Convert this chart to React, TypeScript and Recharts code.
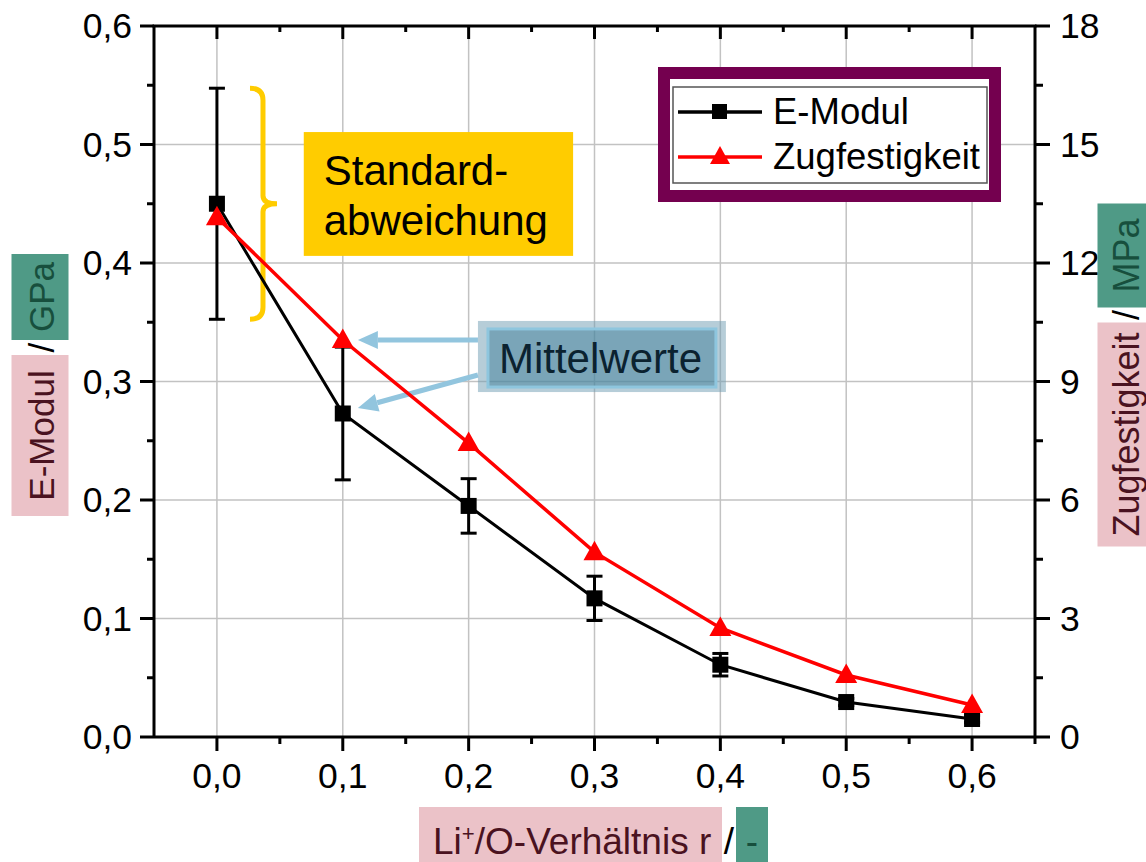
import React from "react";
import {
  ComposedChart,
  Line,
  XAxis,
  YAxis,
  CartesianGrid,
  ErrorBar,
  Legend,
  ReferenceLine,
  ReferenceArea,
} from "recharts";

const FONT = '"Liberation Sans", Arial, Helvetica, sans-serif';

// Li+/O-Verhältnis r
const ratios = [0, 0.1, 0.2, 0.3, 0.4, 0.5, 0.6];
// E-Modul / GPa (Mittelwert + Standardabweichung)
const eModul = [0.45, 0.273, 0.195, 0.117, 0.061, 0.0295, 0.0152];
const eModulStd = [0.0975, 0.056, 0.023, 0.0187, 0.0095, 0.003, 0.003];
// Zugfestigkeit / MPa
const zugfestigkeit = [13.16, 10.05, 7.44, 4.68, 2.76, 1.57, 0.81];

// axis ticks (major + minor)
const X_DOMAIN = [-0.05, 0.65];
const xTicks = [0, 0.05, 0.1, 0.15, 0.2, 0.25, 0.3, 0.35, 0.4, 0.45, 0.5, 0.55, 0.6, 0.65];
const xTopTicks = [0, 0.05, 0.1, 0.15, 0.2, 0.25, 0.3, 0.35, 0.4, 0.45, 0.5, 0.55, 0.6];
const xMajor = [0, 0.1, 0.2, 0.3, 0.4, 0.5, 0.6];
const yLeftTicks = [0, 0.05, 0.1, 0.15, 0.2, 0.25, 0.3, 0.35, 0.4, 0.45, 0.5, 0.55, 0.6];
const yLeftMajor = [0, 0.1, 0.2, 0.3, 0.4, 0.5, 0.6];
const yRightTicks = [0, 1.5, 3, 4.5, 6, 7.5, 9, 10.5, 12, 13.5, 15, 16.5, 18];
const yRightMajor = [0, 3, 6, 9, 12, 15, 18];

// annotation anchors, in data coordinates (x = r, y = GPa)
const braceX = 0.0366;
const stdBox = { x1: 0.069, x2: 0.283, y1: 0.406, y2: 0.5105 };
const meanBox = { x1: 0.2074, x2: 0.4044, y1: 0.2911, y2: 0.3511 };
const arrowZug = [
  { x: 0.2074, y: 0.335 },
  { x: 0.112, y: 0.335 },
];
const arrowE = [
  { x: 0.2074, y: 0.3055 },
  { x: 0.112, y: 0.2776 },
];

const data = ratios.map((r, i) => ({
  r,
  eModul: eModul[i],
  eStd: eModulStd[i],
  zug: zugfestigkeit[i],
}));

const W = 1146;
const H = 862;
const Y_AXIS_W = 60;
const MARGIN = { top: 26, right: 51, bottom: 85, left: 94 };
// plot box edges, derived from the margins above
const PLOT_LEFT = MARGIN.left + Y_AXIS_W;
const PLOT_RIGHT = W - MARGIN.right - Y_AXIS_W;
const PLOT_TOP = MARGIN.top;

const comma = (v: number) => v.toFixed(1).replace(".", ",");
const TICK_FONT = 35.5;

function LeftTick(props: any) {
  const { x, y, payload } = props;
  const major = yLeftMajor.includes(payload.value);
  return (
    <g>
      <line x1={x - (major ? 14 : 7)} y1={y} x2={x} y2={y} stroke="#000" strokeWidth={3} />
      {major && (
        <text x={x - 22} y={y} dy="0.35em" textAnchor="end" fontSize={TICK_FONT} fontFamily={FONT} fill="#000">
          {comma(payload.value)}
        </text>
      )}
    </g>
  );
}

function RightTick(props: any) {
  const { x, y, payload } = props;
  const major = yRightMajor.includes(payload.value);
  return (
    <g>
      <line x1={x} y1={y} x2={x + (major ? 15 : 8)} y2={y} stroke="#000" strokeWidth={3} />
      {major && (
        <text x={x + 25} y={y} dy="0.35em" textAnchor="start" fontSize={TICK_FONT} fontFamily={FONT} fill="#000">
          {String(payload.value)}
        </text>
      )}
    </g>
  );
}

function BottomTick(props: any) {
  const { x, y, payload } = props;
  const major = xMajor.includes(payload.value);
  return (
    <g>
      <line x1={x} y1={y} x2={x} y2={y + (major ? 14 : 7)} stroke="#000" strokeWidth={3} />
      {major && (
        <text x={x} y={y + 51} textAnchor="middle" fontSize={TICK_FONT} fontFamily={FONT} fill="#000">
          {comma(payload.value)}
        </text>
      )}
    </g>
  );
}

// top frame of the plot box with inward ticks, drawn as an overlay
function TopFrame() {
  const span = X_DOMAIN[1] - X_DOMAIN[0];
  const toX = (v: number) => PLOT_LEFT + ((v - X_DOMAIN[0]) / span) * (PLOT_RIGHT - PLOT_LEFT);
  return (
    <svg
      width={W}
      height={H}
      style={{ position: "absolute", left: 0, top: 0, pointerEvents: "none" }}
    >
      <line x1={PLOT_LEFT - 1.5} y1={PLOT_TOP} x2={PLOT_RIGHT + 1.5} y2={PLOT_TOP} stroke="#000" strokeWidth={3} />
      {xTopTicks.map((v) => (
        <line
          key={`tt-${v}`}
          x1={toX(v)}
          y1={PLOT_TOP}
          x2={toX(v)}
          y2={PLOT_TOP + (xMajor.includes(v) ? 13 : 6)}
          stroke="#000"
          strokeWidth={3}
        />
      ))}
    </svg>
  );
}

const squareDot = (props: any) => {
  const { cx, cy, index } = props;
  return <rect key={`sq-${index}`} x={cx - 8} y={cy - 8} width={16} height={16} fill="#000" />;
};

const triangleDot = (props: any) => {
  const { cx, cy, index } = props;
  return (
    <polygon
      key={`tr-${index}`}
      points={`${cx},${cy - 11.5} ${cx - 11},${cy + 8} ${cx + 11},${cy + 8}`}
      fill="#ff0000"
    />
  );
};

const braceShape = (props: any) => {
  const { x1, y1, y2 } = props;
  const top = Math.min(y1, y2);
  const bot = Math.max(y1, y2);
  const mid = (top + bot) / 2;
  const sx = x1;
  const d = [
    `M ${sx - 13} ${top}`,
    `Q ${sx} ${top} ${sx} ${top + 12}`,
    `L ${sx} ${mid - 8}`,
    `Q ${sx} ${mid} ${sx + 14} ${mid}`,
    `Q ${sx} ${mid} ${sx} ${mid + 8}`,
    `L ${sx} ${bot - 12}`,
    `Q ${sx} ${bot} ${sx - 13} ${bot}`,
  ].join(" ");
  return <path d={d} fill="none" stroke="#ffcc00" strokeWidth={5} />;
};

const arrowShape = (props: any) => {
  const { x1, y1, x2, y2 } = props;
  const len = Math.hypot(x2 - x1, y2 - y1) || 1;
  const ux = (x2 - x1) / len;
  const uy = (y2 - y1) / len;
  const bx = x2 - ux * 20;
  const by = y2 - uy * 20;
  const nx = -uy * 9;
  const ny = ux * 9;
  return (
    <g>
      <line x1={x1} y1={y1} x2={bx} y2={by} stroke="#92c5de" strokeWidth={5} />
      <polygon points={`${x2},${y2} ${bx + nx},${by + ny} ${bx - nx},${by - ny}`} fill="#92c5de" />
    </g>
  );
};

const stdBoxShape = (props: any) => {
  const { x, y, width, height } = props;
  return (
    <g>
      <rect x={x} y={y} width={width} height={height} fill="#ffcc00" />
      <text x={x + 20} y={y + 53} fontSize={42} fontFamily={FONT} fill="#000">
        Standard-
      </text>
      <text x={x + 20} y={y + 103} fontSize={42} fontFamily={FONT} fill="#000">
        abweichung
      </text>
    </g>
  );
};

const meanBoxShape = (props: any) => {
  const { x, y, width, height } = props;
  return (
    <g>
      <rect x={x} y={y} width={width} height={height} fill="rgba(110,156,178,0.5)" />
      <rect
        x={x + 10}
        y={y + 8}
        width={width - 20}
        height={height - 13}
        fill="rgba(60,125,150,0.49)"
        stroke="#8ec6de"
        strokeWidth={3}
      />
      <text x={x + 21} y={y + 52} fontSize={42} fontFamily={FONT} fill="#0b2230">
        Mittelwerte
      </text>
    </g>
  );
};

function LegendBox(props: any) {
  const payload = props.payload || [];
  return (
    <div
      style={{
        width: 343,
        height: 135,
        boxSizing: "border-box",
        border: "12px solid #74004f",
        background: "#fff",
      }}
    >
      <svg width={319} height={111} style={{ display: "block" }}>
        <rect x={3} y={8} width={314} height={96} fill="#fff" stroke="#555" strokeWidth={1.5} />
        {payload.map((entry: any, i: number) => {
          const cy = 33 + i * 45;
          const isE = entry.dataKey === "eModul";
          const color = isE ? "#000" : "#ff0000";
          return (
            <g key={entry.value}>
              <line x1={8} y1={cy} x2={92} y2={cy} stroke={color} strokeWidth={3.5} />
              {isE ? (
                <rect x={42} y={cy - 8} width={15} height={15} fill="#000" />
              ) : (
                <polygon points={`50,${cy - 11} 40,${cy + 7} 60,${cy + 7}`} fill="#ff0000" />
              )}
              <text x={103} y={cy + 12} fontSize={36.5} fontFamily={FONT} fill="#000">
                {entry.value}
              </text>
            </g>
          );
        })}
      </svg>
    </div>
  );
}

const pink = { background: "#ebc2c8", color: "#4a1220" };
const green = { background: "#4f9a86", color: "#174f3d" };

export default function App() {
  return (
    <div
      style={{
        position: "absolute",
        left: 0,
        top: 0,
        width: W,
        height: H,
        overflow: "hidden",
        background: "#fff",
        fontFamily: FONT,
      }}
    >
      <ComposedChart width={W} height={H} data={data} margin={MARGIN}>
        <CartesianGrid
          xAxisId="bottom"
          yAxisId="left"
          stroke="#c2c2c2"
          strokeWidth={1.5}
          verticalValues={xMajor}
          horizontalValues={yLeftMajor}
        />
        <XAxis
          xAxisId="bottom"
          dataKey="r"
          type="number"
          domain={X_DOMAIN}
          allowDataOverflow
          ticks={xTicks}
          interval={0}
          height={40}
          tickSize={0}
          tickMargin={0}
          tickLine={false}
          tick={<BottomTick />}
          axisLine={{ stroke: "#000", strokeWidth: 3 }}
        />
        <YAxis
          yAxisId="left"
          type="number"
          domain={[0, 0.6]}
          allowDataOverflow
          ticks={yLeftTicks}
          interval={0}
          width={Y_AXIS_W}
          tickSize={0}
          tickMargin={0}
          tickLine={false}
          tick={<LeftTick />}
          axisLine={{ stroke: "#000", strokeWidth: 3 }}
        />
        <YAxis
          yAxisId="right"
          orientation="right"
          type="number"
          domain={[0, 18]}
          allowDataOverflow
          ticks={yRightTicks}
          interval={0}
          width={Y_AXIS_W}
          tickSize={0}
          tickMargin={0}
          tickLine={false}
          tick={<RightTick />}
          axisLine={{ stroke: "#000", strokeWidth: 3 }}
        />

        <ReferenceLine xAxisId="bottom" yAxisId="left" segment={arrowZug} shape={arrowShape} />
        <ReferenceLine xAxisId="bottom" yAxisId="left" segment={arrowE} shape={arrowShape} />
        <ReferenceArea
          xAxisId="bottom"
          yAxisId="left"
          x1={meanBox.x1}
          x2={meanBox.x2}
          y1={meanBox.y1}
          y2={meanBox.y2}
          shape={meanBoxShape}
        />
        <ReferenceArea
          xAxisId="bottom"
          yAxisId="left"
          x1={stdBox.x1}
          x2={stdBox.x2}
          y1={stdBox.y1}
          y2={stdBox.y2}
          shape={stdBoxShape}
        />
        <ReferenceLine
          xAxisId="bottom"
          yAxisId="left"
          segment={[
            { x: braceX, y: eModul[0] + eModulStd[0] },
            { x: braceX, y: eModul[0] - eModulStd[0] },
          ]}
          shape={braceShape}
        />

        <Line
          xAxisId="bottom"
          yAxisId="left"
          type="linear"
          dataKey="eModul"
          name="E-Modul"
          stroke="#000"
          strokeWidth={3}
          dot={squareDot}
          activeDot={false}
          isAnimationActive={false}
        >
          <ErrorBar dataKey="eStd" direction="y" width={8} strokeWidth={3} stroke="#000" />
        </Line>
        <Line
          xAxisId="bottom"
          yAxisId="right"
          type="linear"
          dataKey="zug"
          name="Zugfestigkeit"
          stroke="#ff0000"
          strokeWidth={3.5}
          dot={triangleDot}
          activeDot={false}
          isAnimationActive={false}
        />
        <Legend
          layout="horizontal"
          verticalAlign="middle"
          align="center"
          content={<LegendBox />}
          wrapperStyle={{ position: "absolute", left: 658, top: 67, width: 343, height: 135 }}
        />
      </ComposedChart>

      <TopFrame />

      {/* left axis title */}
      <div
        style={{
          position: "absolute",
          left: 40,
          top: 385,
          transform: "translate(-50%, -50%) rotate(-90deg)",
          display: "flex",
          whiteSpace: "nowrap",
          fontSize: 35,
          lineHeight: "60px",
        }}
      >
        <span style={{ ...pink, width: 161, height: 57, textAlign: "center", display: "inline-block" }}>
          E-Modul
        </span>
        <span style={{ width: 15, height: 57, textAlign: "center", display: "inline-block" }}>/</span>
        <span style={{ ...green, width: 86, height: 57, textAlign: "center", display: "inline-block" }}>
          GPa
        </span>
      </div>

      {/* right axis title */}
      <div
        style={{
          position: "absolute",
          left: 1126,
          top: 375,
          transform: "translate(-50%, -50%) rotate(-90deg)",
          display: "flex",
          whiteSpace: "nowrap",
          fontSize: 36,
          lineHeight: "57px",
        }}
      >
        <span style={{ ...pink, width: 224, height: 57, textAlign: "center", display: "inline-block" }}>
          Zugfestigkeit
        </span>
        <span style={{ width: 15, height: 57, textAlign: "center", display: "inline-block" }}>/</span>
        <span style={{ ...green, width: 104, height: 57, textAlign: "center", display: "inline-block" }}>
          MPa
        </span>
      </div>

      {/* bottom axis title */}
      <div
        style={{
          position: "absolute",
          left: 419,
          top: 807,
          display: "flex",
          whiteSpace: "nowrap",
          fontSize: 37,
          lineHeight: "70px",
        }}
      >
        <span style={{ ...pink, width: 289, height: 70, paddingLeft: 14, display: "inline-block" }}>
          Li<span style={{ fontSize: "0.6em", verticalAlign: "0.6em", lineHeight: 0 }}>+</span>/O-Verhältnis r
        </span>
        <span style={{ width: 14, height: 70, textAlign: "center", display: "inline-block" }}>/</span>
        <span style={{ ...green, width: 32, height: 70, textAlign: "center", display: "inline-block" }}>-</span>
      </div>
    </div>
  );
}
